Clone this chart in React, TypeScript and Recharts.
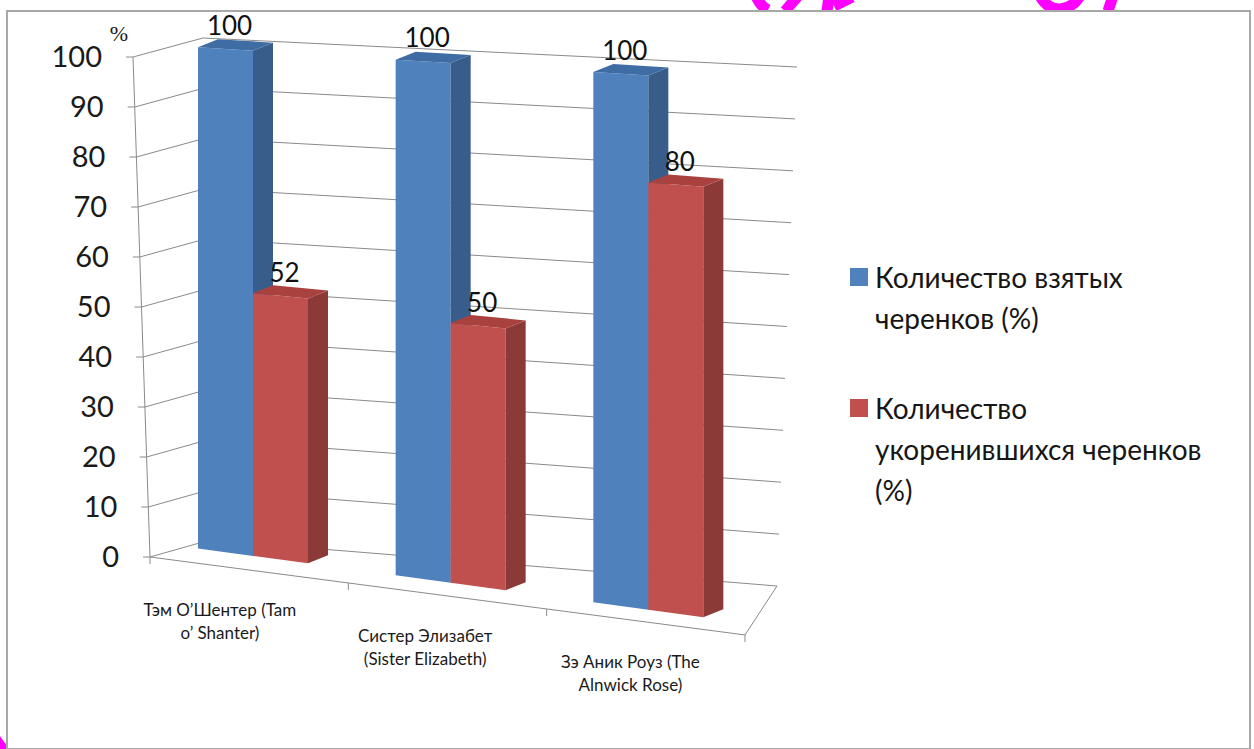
import React from 'react';
import { BarChart, Bar, XAxis, YAxis, CartesianGrid, Legend, LabelList } from 'recharts';

// ---------- data ----------
const categories = [
  'Тэм О’Шентер (Tam o’ Shanter)',
  'Систер Элизабет (Sister Elizabeth)',
  'Зэ Аник Роуз (The Alnwick Rose)',
];
const categoryLines = [
  ['Тэм О’Шентер (Tam', 'o’ Shanter)'],
  ['Систер Элизабет', '(Sister Elizabeth)'],
  ['Зэ Аник Роуз (The', 'Alnwick Rose)'],
];
const takenValues = [100, 100, 100];
const rootedValues = [52, 50, 80];
const seriesNames = ['Количество взятых черенков (%)', 'Количество укоренившихся черенков (%)'];
const legendLines = [
  ['Количество взятых', 'черенков (%)'],
  ['Количество', 'укоренившихся черенков', '(%)'],
];
const yTicks = [0, 10, 20, 30, 40, 50, 60, 70, 80, 90, 100];

const data = categories.map((name, i) => ({ name, taken: takenValues[i], rooted: rootedValues[i] }));

// ---------- layout ----------
const CW = 1254;
const CH = 749;
const L = 154;
const R = 747;
const T = 57;
const B = 557;
const FONT = 'Lato, "Open Sans", sans-serif';
const GRID = '#8a8a8a';
const MAGENTA = '#FF00FF';

// perspective-like view transform applied to scale output
const frac = (yFlat: number) => (B - yFlat) / (B - T);
const barBaseY = (x: number) => 548 + (x - 195) * 0.136;
const barTopY = (x: number) => 47 + (x - 195) * 0.063;
const barY = (x: number, yFlat: number) => {
  const f = frac(yFlat);
  const b = barBaseY(x);
  return b - (b - barTopY(x)) * f;
};
const wallFront = (f: number) => [150 - 17 * f, 557 - 500 * f];
const wallBackLeft = (f: number) => [210 - 7 * f, 540 - 502 * f];
const wallBackRight = (f: number) => [777 + 20 * f, 586 - 519 * f];
const floorFrontX = (xFlat: number) => 150 + (xFlat - L) * (595 / (R - L));
const floorFrontY = (xFront: number) => 557 + (xFront - 150) * 0.131;
const DEPTH_X = 20;
const DEPTH_Y = -8;

const makeBar = (front: string, side: string, top: string) => (props: any) => {
  const { x, y, width, height } = props;
  if (width == null || height == null) return <g />;
  const x0 = x;
  const x1 = x + width;
  const yTop = y;
  const yBot = y + height;
  const a = [x0, barY(x0, yTop)];
  const b = [x1, barY(x1, yTop)];
  const c = [x1, barY(x1, yBot)];
  const d = [x0, barY(x0, yBot)];
  const pts = (arr: number[][]) => arr.map((p) => p.join(',')).join(' ');
  return (
    <g>
      <polygon points={pts([a, b, c, d])} fill={front} />
      <polygon
        points={pts([b, [b[0] + DEPTH_X, b[1] + DEPTH_Y], [c[0] + DEPTH_X, c[1] + DEPTH_Y], c])}
        fill={side}
      />
      <polygon
        points={pts([a, [a[0] + DEPTH_X, a[1] + DEPTH_Y], [b[0] + DEPTH_X, b[1] + DEPTH_Y], b])}
        fill={top}
      />
    </g>
  );
};

const BlueBar = makeBar('#4F81BD', '#385D8A', '#3F6CA3');
const RedBar = makeBar('#C0504D', '#8C3A38', '#A9423F');

const renderValueLabel = (props: any) => {
  const { x, y, width, value } = props;
  const cx = x + width / 2;
  const top = barY(cx, y);
  return (
    <text x={cx + 4} y={top - 14} textAnchor="middle" fontSize={26} fontFamily={FONT} fill="#111">
      {value}
    </text>
  );
};

const gridLine = (props: any) => {
  const f = frac(props.y1);
  const p0 = wallFront(f);
  const p1 = wallBackLeft(f);
  const p2 = wallBackRight(f);
  const isFloor = Math.abs(f) < 0.001;
  const band = (R - L) / categories.length;
  const boundaries = categories.map((_, i) => L + band * i).concat([R]);
  return (
    <g key={`grid-${props.index}`}>
      <polyline
        points={`${p0.join(',')} ${p1.join(',')} ${p2.join(',')}`}
        fill="none"
        stroke={GRID}
        strokeWidth={1}
      />
      {isFloor && (
        <g>
          <line x1={150} y1={557} x2={745} y2={floorFrontY(745)} stroke={GRID} strokeWidth={1} />
          <line x1={745} y1={floorFrontY(745)} x2={p2[0]} y2={p2[1]} stroke={GRID} strokeWidth={1} />
          {boundaries.map((bx, i) => {
            const fx = floorFrontX(bx);
            const fy = floorFrontY(fx);
            return <line key={i} x1={fx} y1={fy} x2={fx} y2={fy + 7} stroke={GRID} strokeWidth={1} />;
          })}
        </g>
      )}
    </g>
  );
};

const YTick = (props: any) => {
  const { y, payload } = props;
  const v = payload.value;
  const f = frac(y);
  const [fx, fy] = wallFront(f);
  const top = wallFront(1);
  const bot = wallFront(0);
  return (
    <g>
      <line x1={fx - 7} y1={fy} x2={fx} y2={fy} stroke={GRID} strokeWidth={1} />
      <text x={fx - 31} y={fy + 10} textAnchor="end" fontSize={29} fontFamily={FONT} fill="#1a1a1a">
        {v}
      </text>
      {v === 0 && <line x1={bot[0]} y1={bot[1]} x2={top[0]} y2={top[1]} stroke={GRID} strokeWidth={1} />}
      {v === 100 && (
        <text x={119} y={41} textAnchor="middle" fontSize={22} fontFamily="'Liberation Serif', serif" fill="#1a1a1a">
          %
        </text>
      )}
    </g>
  );
};

const XTick = (props: any) => {
  const { x, payload } = props;
  const i = payload.index ?? categories.indexOf(payload.value);
  const lines = categoryLines[i] || [String(payload.value)];
  const fx = floorFrontX(x);
  const base = floorFrontY(fx) + 46;
  const cx = fx * 1.035 - 38;
  return (
    <g>
      {lines.map((ln, k) => (
        <text
          key={k}
          x={cx}
          y={base + k * 23}
          textAnchor="middle"
          fontSize={17}
          fontFamily={FONT}
          fill="#1a1a1a"
        >
          {ln}
        </text>
      ))}
    </g>
  );
};

const LegendContent = (props: any) => {
  const payload = props.payload || [];
  return (
    <div style={{ fontFamily: FONT, fontSize: 28, lineHeight: '41px', color: '#161616' }}>
      {payload.map((p: any, i: number) => {
        const idx = seriesNames.indexOf(p.value);
        const lines = legendLines[idx >= 0 ? idx : i];
        return (
          <div key={i} style={{ display: 'flex', alignItems: 'flex-start', marginBottom: i === 0 ? 49 : 0 }}>
            <div
              style={{ width: 18, height: 18, background: p.color, marginTop: 11, marginRight: 7, flex: 'none' }}
            />
            <div style={{ whiteSpace: 'nowrap' }}>
              {lines.map((ln) => (
                <div key={ln}>{ln}</div>
              ))}
            </div>
          </div>
        );
      })}
    </div>
  );
};

export default function App() {
  return (
    <div style={{ position: 'absolute', left: 0, top: 0, width: CW, height: CH, background: '#fff', fontFamily: FONT, overflow: 'hidden' }}>
      {/* cropped slide-title remnants above the chart frame */}
      <svg width={CW} height={CH} style={{ position: 'absolute', left: 0, top: 0 }}>
        <g stroke={MAGENTA} strokeWidth={11} fill="none" strokeLinecap="butt">
          <path d="M756,-4 Q760,6 768,10" />
          <path d="M798,-4 L785,11" />
          <path d="M829,-4 L827,11" />
          <path d="M834,6 L852,-3" />
          <path d="M1040,-4 Q1047,9 1060,9 Q1073,8 1080,-4" />
          <path d="M1113,-4 L1108,11" />
        </g>
        <polygon points="0,736 9,749 0,749" fill={MAGENTA} />
      </svg>
      <div
        style={{
          position: 'absolute',
          left: 6,
          top: 10,
          width: 1245,
          height: 740,
          boxSizing: 'border-box',
          border: '2px solid #a8a8a8',
          background: '#fff',
        }}
      />
      <div style={{ position: 'absolute', left: 0, top: 0 }}>
        <BarChart
          width={CW}
          height={CH}
          data={data}
          margin={{ top: T, right: CW - R, bottom: CH - B - 30, left: 0 }}
          barGap={0}
        >
          <CartesianGrid vertical={false} horizontal={gridLine} />
          <XAxis
            dataKey="name"
            type="category"
            height={30}
            axisLine={false}
            tickLine={false}
            interval={0}
            tick={<XTick />}
          />
          <YAxis
            type="number"
            domain={[0, 100]}
            ticks={yTicks}
            width={L}
            axisLine={false}
            tickLine={false}
            tick={<YTick />}
            interval={0}
          />
          <Legend
            layout="vertical"
            align="center"
            verticalAlign="middle"
            content={<LegendContent />}
            wrapperStyle={{ position: 'absolute', left: 850, top: 257, width: 400, height: 260 }}
          />
          <Bar
            dataKey="taken"
            name={seriesNames[0]}
            fill="#4F81BD"
            barSize={55}
            isAnimationActive={false}
            shape={BlueBar}
          >
            <LabelList dataKey="taken" content={renderValueLabel} />
          </Bar>
          <Bar
            dataKey="rooted"
            name={seriesNames[1]}
            fill="#C0504D"
            barSize={55}
            isAnimationActive={false}
            shape={RedBar}
          >
            <LabelList dataKey="rooted" content={renderValueLabel} />
          </Bar>
        </BarChart>
      </div>
    </div>
  );
}
